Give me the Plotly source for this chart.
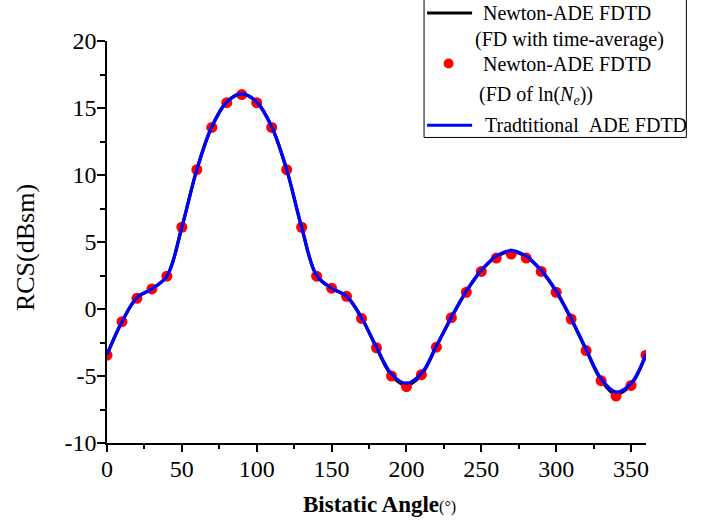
import plotly.graph_objects as go

# ---------------- data ----------------
angle = list(range(0, 361, 10))

rcs_time_avg = [-3.4, -0.95, 0.85, 1.5, 2.45, 6.1, 10.4, 13.6, 15.45, 16.05,
                15.45, 13.6, 10.4, 6.1, 2.5, 1.55, 0.95, -0.65, -2.9, -4.95,
                -5.7, -4.9, -2.8, -0.65, 1.3, 2.85, 3.9, 4.3, 3.9, 2.85,
                1.3, -0.75, -3.05, -5.3, -6.35, -5.65, -3.4]

rcs_ln = [-3.45, -0.95, 0.8, 1.5, 2.45, 6.1, 10.4, 13.55, 15.4, 16.0,
          15.4, 13.55, 10.4, 6.1, 2.45, 1.55, 0.95, -0.7, -2.9, -5.0,
          -5.8, -4.9, -2.85, -0.65, 1.25, 2.8, 3.8, 4.1, 3.8, 2.8,
          1.25, -0.75, -3.1, -5.35, -6.5, -5.7, -3.45]

rcs_trad = [-3.4, -0.95, 0.85, 1.5, 2.45, 6.1, 10.4, 13.6, 15.45, 16.05,
            15.45, 13.6, 10.4, 6.1, 2.5, 1.55, 0.95, -0.65, -2.85, -4.85,
            -5.55, -4.8, -2.75, -0.6, 1.35, 2.9, 3.95, 4.35, 3.95, 2.9,
            1.35, -0.7, -3.0, -5.2, -6.2, -5.55, -3.35]

x_ticks = [0, 50, 100, 150, 200, 250, 300, 350]
y_ticks = [-10, -5, 0, 5, 10, 15, 20]

legend_labels = ["Newton-ADE FDTD", "(FD with time-average)",
                 "Newton-ADE FDTD", "(FD of ln(<i>N</i><sub><i>e</i></sub>))",
                 "Tradtitional\u00a0\u00a0ADE FDTD"]

# ---------------- layout geometry ----------------
W, H = 710, 523
ML, MR, MT, MB = 107.3, 64.3, 40.7, 79.7
PW, PH = W - ML - MR, H - MT - MB
FONT = "Liberation Serif"


def px(xp):
    return (xp - ML) / PW


def py(yp):
    return (H - MB - yp) / PH


fig = go.Figure()
fig.add_trace(go.Scatter(x=angle, y=rcs_time_avg, mode="lines",
                         line=dict(color="black", width=3.2, shape="spline"),
                         showlegend=False))
fig.add_trace(go.Scatter(x=angle, y=rcs_ln, mode="markers",
                         marker=dict(color="#ff0000", size=11, line=dict(width=0)),
                         showlegend=False))
fig.add_trace(go.Scatter(x=angle, y=rcs_trad, mode="lines",
                         line=dict(color="#0000ff", width=3.2, shape="spline"),
                         showlegend=False))

shapes = []
annotations = []

# legend box
shapes.append(dict(type="rect", xref="paper", yref="paper",
                   x0=px(424), x1=px(686), y0=py(137.3), y1=py(-3),
                   line=dict(color="black", width=1), fillcolor="rgba(0,0,0,0)"))
# sample lines and marker
shapes.append(dict(type="line", xref="paper", yref="paper",
                   x0=px(427), x1=px(472), y0=py(12.7), y1=py(12.7),
                   line=dict(color="black", width=3)))
shapes.append(dict(type="circle", xref="paper", yref="paper",
                   x0=px(443.5), x1=px(453.5), y0=py(58.3), y1=py(68.3),
                   line=dict(width=0), fillcolor="#ff0000"))
shapes.append(dict(type="line", xref="paper", yref="paper",
                   x0=px(427), x1=px(472), y0=py(125), y1=py(125),
                   line=dict(color="#0000ff", width=3)))

leg_pos = [(480.7, 12.7), (473.3, 39.3), (480.7, 63.3), (477.3, 95.5), (483.3, 125)]
for txt, (xx, yy) in zip(legend_labels, leg_pos):
    annotations.append(dict(text=txt, xref="paper", yref="paper", x=px(xx), y=py(yy),
                            xanchor="left", yanchor="middle", showarrow=False,
                            font=dict(family=FONT, size=20, color="black")))

# axis titles
annotations.append(dict(text="<b>Bistatic Angle</b><span style='font-size:16px'>(°)</span>",
                        xref="paper", yref="paper", x=px(379), y=py(505),
                        xanchor="center", yanchor="middle", showarrow=False,
                        font=dict(family=FONT, size=23, color="black")))
annotations.append(dict(text="RCS(dBsm)", xref="paper", yref="paper",
                        x=px(26), y=py(247.5), textangle=-90,
                        xanchor="center", yanchor="middle", showarrow=False,
                        font=dict(family=FONT, size=26, color="black")))

fig.update_layout(
    width=W, height=H,
    margin=dict(l=ML, r=MR, t=MT, b=MB, pad=0),
    paper_bgcolor="white", plot_bgcolor="white",
    showlegend=False,
    shapes=shapes, annotations=annotations,
    font=dict(family=FONT, color="black"),
    xaxis=dict(range=[0, 360], tickmode="array", tickvals=x_ticks,
               ticktext=[str(v) for v in x_ticks],
               showline=True, linecolor="black", linewidth=1.5,
               ticks="outside", ticklen=7, tickwidth=1.5, tickcolor="black",
               ticklabelstandoff=-4,
               minor=dict(dtick=25, ticks="outside", ticklen=4, tickwidth=1.5,
                          tickcolor="black", showgrid=False),
               showgrid=False, zeroline=False,
               tickfont=dict(family=FONT, size=24, color="black")),
    yaxis=dict(range=[-10, 20], tickmode="array", tickvals=y_ticks,
               ticktext=[str(v) for v in y_ticks],
               showline=True, linecolor="black", linewidth=1.5,
               ticks="outside", ticklen=8, tickwidth=1.5, tickcolor="black",
               ticklabelstandoff=-4,
               minor=dict(dtick=2.5, ticks="outside", ticklen=5, tickwidth=1.5,
                          tickcolor="black", showgrid=False),
               showgrid=False, zeroline=False,
               tickfont=dict(family=FONT, size=24, color="black")),
)

fig.write_html("out.html")
